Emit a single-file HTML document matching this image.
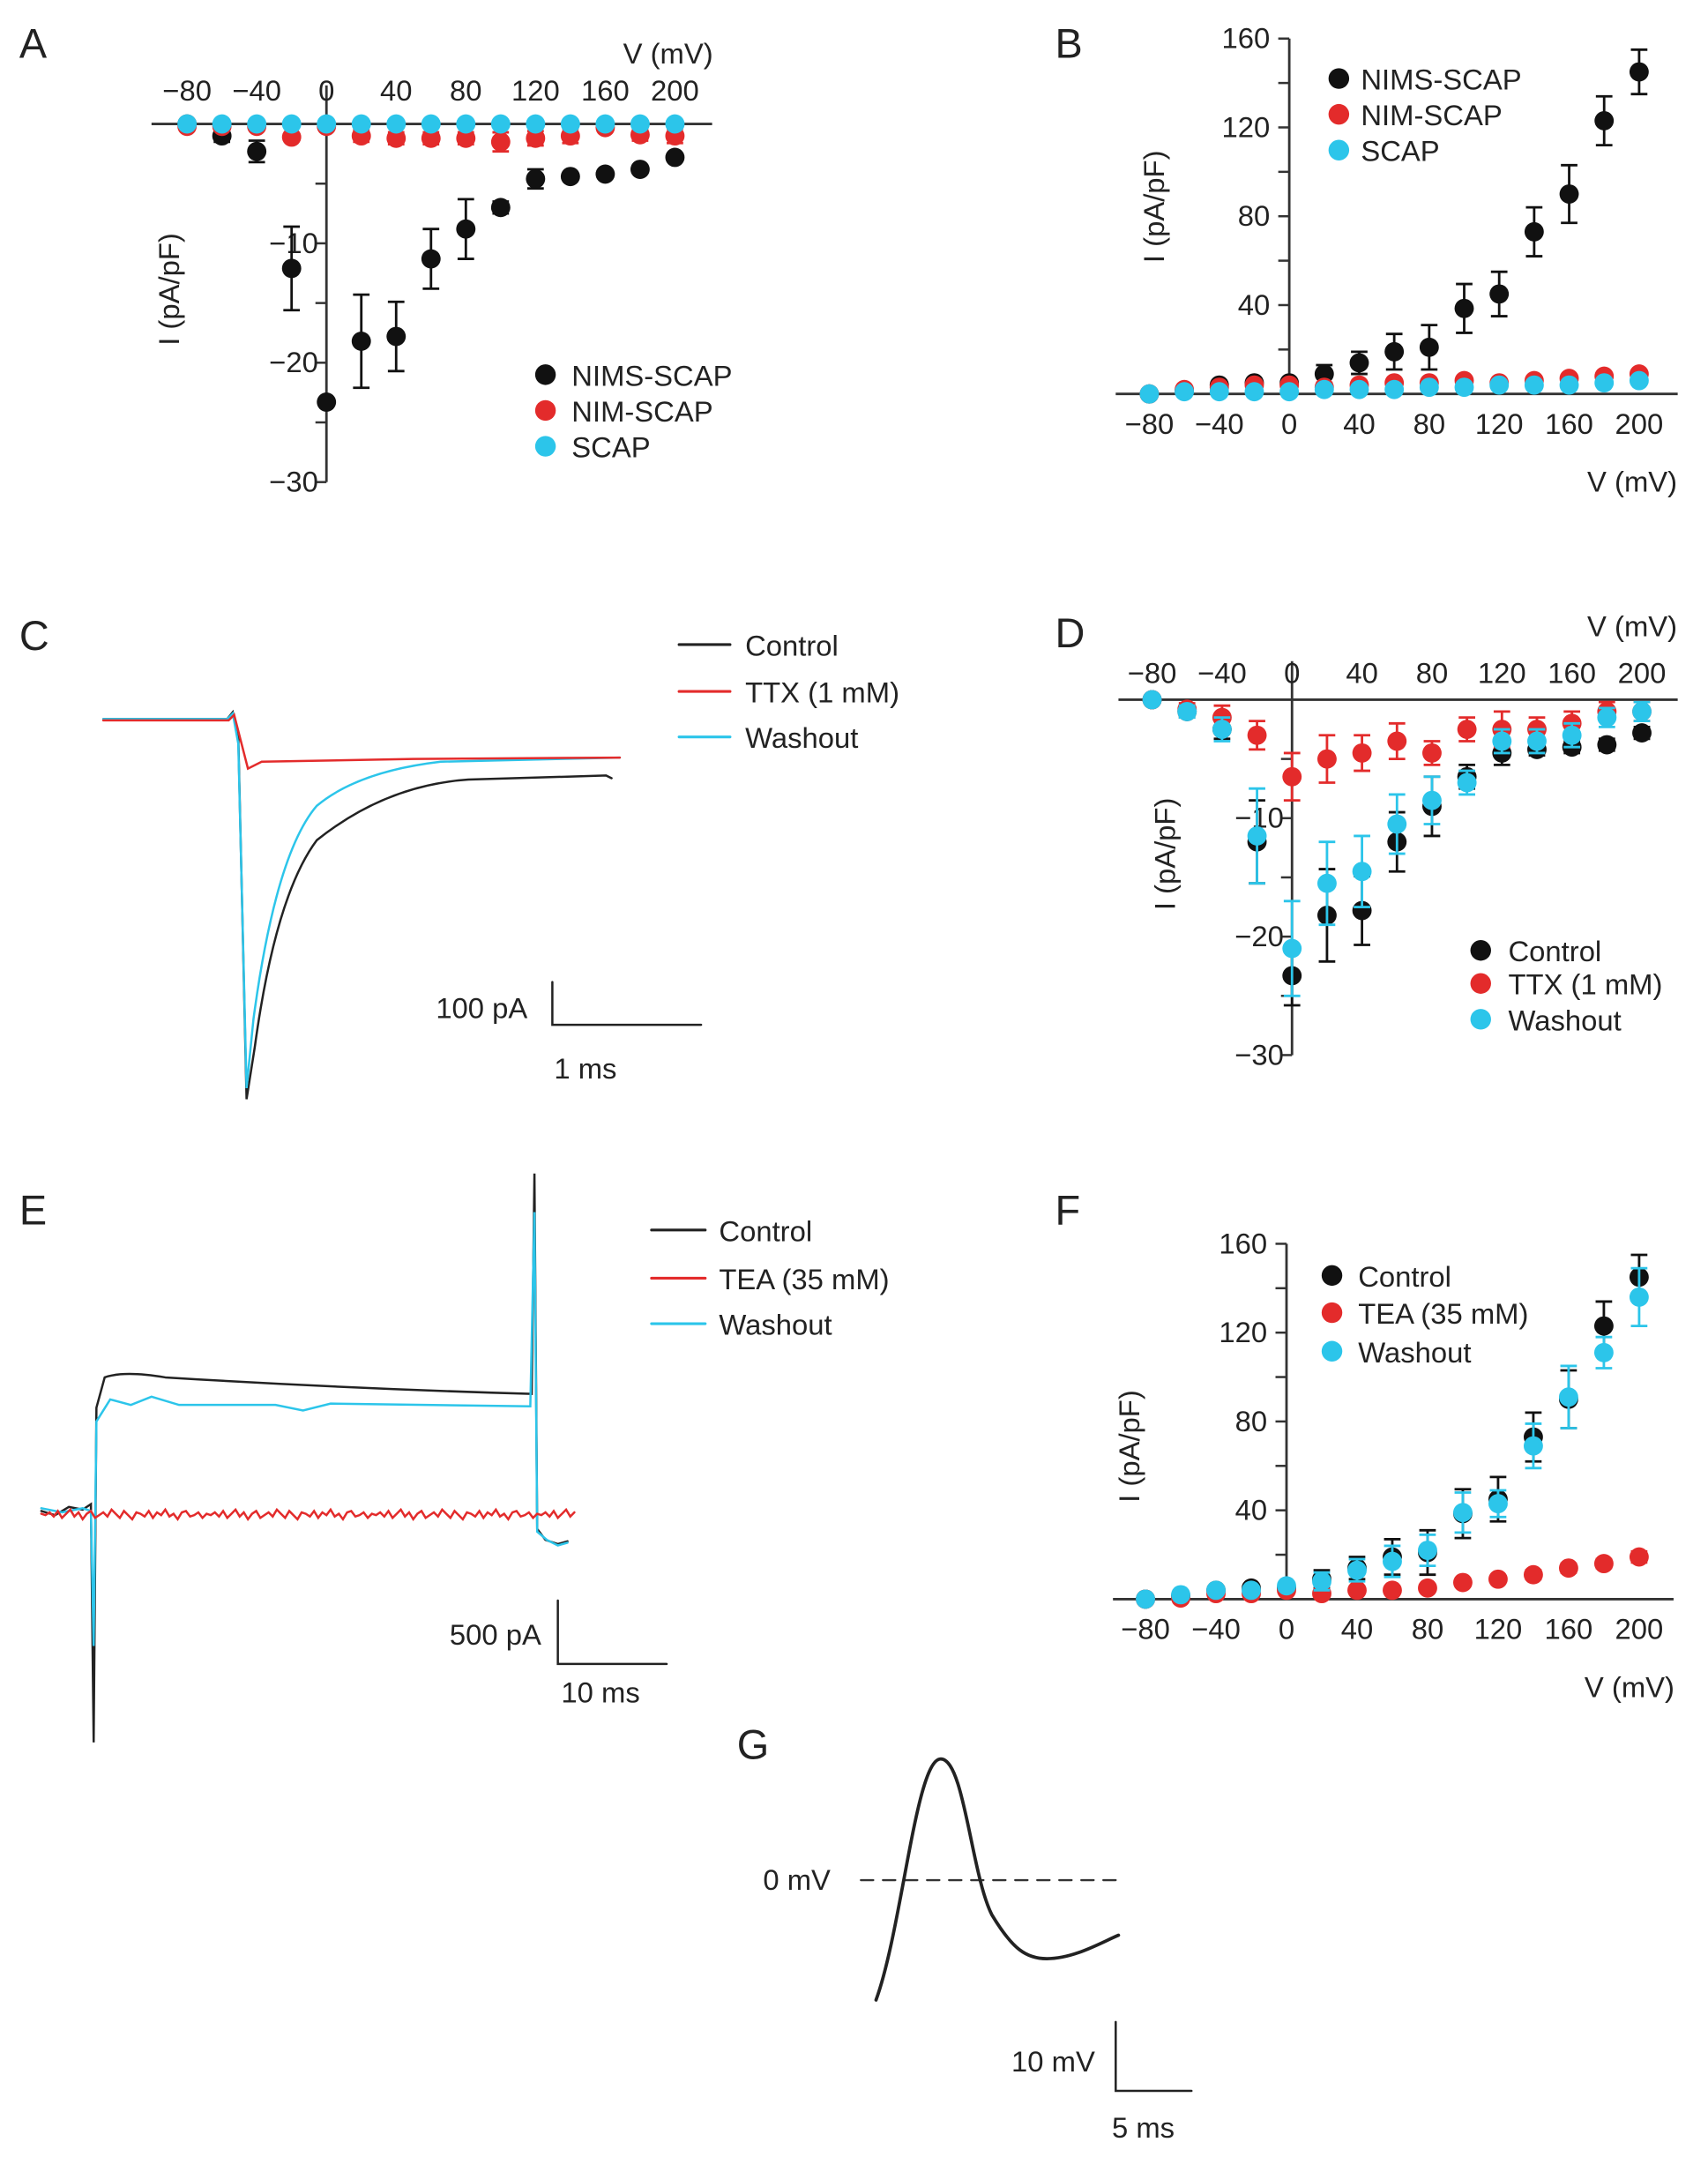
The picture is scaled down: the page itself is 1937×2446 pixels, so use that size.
<!DOCTYPE html>
<html><head><meta charset="utf-8">
<style>
html,body{margin:0;padding:0;background:#fff;}
svg{display:block;}
text{font-family:"Liberation Sans",Arial,sans-serif;fill:#222;}
</style></head>
<body>
<svg id="fig" width="1937" height="2446" viewBox="0 0 1240 1566" preserveAspectRatio="none" xmlns="http://www.w3.org/2000/svg">
<g id="static" stroke-linecap="round">
  <!-- panel labels -->
  <text x="14" y="42" font-size="30">A</text>
  <text x="766" y="42" font-size="30">B</text>
  <text x="14" y="472" font-size="30">C</text>
  <text x="766" y="470" font-size="30">D</text>
  <text x="14" y="889" font-size="30">E</text>
  <text x="766" y="889" font-size="30">F</text>
  <text x="535" y="1277" font-size="30">G</text>

  <!-- Panel C traces -->
  <g fill="none" stroke-width="1.6">
    <path stroke="#222" d="M75,522 L165,522 L169,517 L173,535 L179,798 L185,760 Q200,650 230,610 Q280,570 340,566 L440,563 L444,565"/>
    <path stroke="#2cc5ea" d="M75,522 L165,522 L169,518 L173,540 L179,790 L184,740 Q200,620 230,585 Q260,560 320,553 L450,550"/>
    <path stroke="#e32b2b" d="M75,523 L166,523 L170,519 L180,558 L190,553 L300,551 L450,550"/>
  </g>
  <g>
    <line x1="493" y1="468" x2="530" y2="468" stroke="#222" stroke-width="2"/>
    <line x1="493" y1="502" x2="530" y2="502" stroke="#e32b2b" stroke-width="2"/>
    <line x1="493" y1="535" x2="530" y2="535" stroke="#2cc5ea" stroke-width="2"/>
    <text x="541" y="476" font-size="21">Control</text>
    <text x="541" y="510" font-size="21">TTX (1 mM)</text>
    <text x="541" y="543" font-size="21">Washout</text>
  </g>
  <g>
    <path d="M401,713 L401,744 L509,744" fill="none" stroke="#222" stroke-width="1.6"/>
    <text x="383" y="739" font-size="21" text-anchor="end">100 pA</text>
    <text x="425" y="783" font-size="21" text-anchor="middle">1 ms</text>
  </g>

  <!-- Panel E traces -->
  <g fill="none" stroke-width="1.6">
    <path stroke="#222" d="M30,1097 L40,1100 L50,1094 L60,1096 L66,1092 L68,1265 L70,1022 L76,1000 Q90,995 120,1000 Q250,1008 386,1012 L388,852 L390,1110 L396,1118 L405,1121 L412,1119"/>
    <path stroke="#2cc5ea" d="M30,1095 L45,1098 L60,1095 L66,1097 L68,1195 L70,1032 L80,1016 L95,1020 L110,1014 L130,1020 L200,1020 L220,1024 L240,1019 L385,1021 L388,880 L390,1112 L397,1118 L405,1122 L412,1120"/>
    <path id="redE" stroke="#e32b2b" d=""/>
  </g>
  <g>
    <line x1="473" y1="893" x2="512" y2="893" stroke="#222" stroke-width="2"/>
    <line x1="473" y1="928" x2="512" y2="928" stroke="#e32b2b" stroke-width="2"/>
    <line x1="473" y1="961" x2="512" y2="961" stroke="#2cc5ea" stroke-width="2"/>
    <text x="522" y="901" font-size="21">Control</text>
    <text x="522" y="936" font-size="21">TEA (35 mM)</text>
    <text x="522" y="969" font-size="21">Washout</text>
  </g>
  <g>
    <path d="M405,1162 L405,1208 L484,1208" fill="none" stroke="#222" stroke-width="1.6"/>
    <text x="393" y="1194" font-size="21" text-anchor="end">500 pA</text>
    <text x="436" y="1236" font-size="21" text-anchor="middle">10 ms</text>
  </g>

  <!-- Panel G -->
  <line x1="625" y1="1365" x2="815" y2="1365" stroke="#333" stroke-width="1.5" stroke-dasharray="9,7"/>
  <text x="603" y="1372" font-size="21" text-anchor="end">0 mV</text>
  <path fill="none" stroke="#222" stroke-width="2.4" d="M636,1452 C655,1400 665,1277 683,1277 C700,1277 705,1360 720,1390 C735,1415 745,1422 760,1422 C780,1422 800,1410 812,1405"/>
  <g>
    <path d="M810,1468 L810,1518 L865,1518" fill="none" stroke="#222" stroke-width="1.6"/>
    <text x="795" y="1504" font-size="21" text-anchor="end">10 mV</text>
    <text x="830" y="1552" font-size="21" text-anchor="middle">5 ms</text>
  </g>
</g>
<g id="charts"></g>
</svg>
<script>
// ===== Data =====
const voltages = [-80,-60,-40,-20,0,20,40,60,80,100,120,140,160,180,200];
// Panel A (inward)
const aNims = [0,-1.0,-2.3,-12.1,-23.3,-18.2,-17.8,-11.3,-8.8,-7.0,-4.6,-4.4,-4.2,-3.8,-2.8];
const aNimsErr = [0,0.5,0.9,3.5,0,3.9,2.9,2.5,2.5,0.5,0.8,0,0,0,0];
const aNim = [-0.2,-0.2,-0.2,-1.1,-0.2,-1.0,-1.2,-1.2,-1.2,-1.5,-1.2,-1.0,-0.3,-0.9,-1.0];
const aNimErr = [0,0,0,0,0,0.5,0.5,0.5,0.5,0.8,0.6,0.6,0,0.5,0.6];
const aScap = [0,0,0,0,0,0,0,0,0,0,0,0,0,0,0];
// Panel B (outward)
const bNims = [0,1.5,4,5,5,9,14,19,21,38.5,45,73,90,123,145];
const bNimsErr = [0,0,0,0,1.5,4,5,8,10,11,10,11,13,11,10];
const bNim = [0,2,3,4,4,3,4,5,5,6,5,6,7,8,9];
const bScap = [0,1,1,1,1,2,2,2,3,3,4,4,4,5,6];
// Panel D
const dControl = [0,-1,-2.5,-12,-23.3,-18.2,-17.8,-12,-9,-6.5,-4.5,-4.2,-4,-3.8,-2.8];
const dControlErr = [0,0.5,0.8,3.5,2.5,3.9,2.9,2.5,2.5,1,1,0.5,0.5,0.5,0.5];
const dTtx = [0,-0.8,-1.5,-3,-6.5,-5,-4.5,-3.5,-4.5,-2.5,-2.5,-2.5,-2,-1,-1];
const dTtxErr = [0,0.5,1,1.2,2,2,1.5,1.5,1,1,1.5,1,1,0.8,0.8];
const dWash = [0,-1,-2.5,-11.5,-21,-15.5,-14.5,-10.5,-8.5,-7,-3.5,-3.5,-3,-1.5,-1];
const dWashErr = [0,0.5,1,4,4,3.5,3,2.5,2,1,1,1,1,0.8,0.8];
// Panel F
const fControl = [0,1.5,4,5,5,9,14,19,21,38.5,45,73,90,123,145];
const fControlErr = [0,0,0,0,1.5,4,5,8,10,11,10,11,13,11,10];
const fTea = [0,0.5,2.5,2.5,4,2.5,4,4,5,7.5,9,11,14,16,19];
const fTeaErr = [0,0,0,0,0,0,0,0,0,1,1.5,2,2,2,2.5];
const fWash = [0,2,4,4,6,8,13,17,22,39,43,69,91,111,136];
const fWashErr = [0,0,0,0,1,4,5,7,7,9,6,10,14,7,13];
// Tick labels
const xTicks = [-80,-40,0,40,80,120,160,200];
const yTicksNeg = [-10,-20,-30];
const yTicksPos = [40,80,120,160];
// E red noise offsets
const teaNoise = [0,2,-1,3,-2,1,4,-1,2,-3,1,3,-2,0,2,-1,4,1,-2,3,0,-3,2,1,-1,3,-2,2,0,4,-1,1,-3,2,3,-1,0,2,-2,1];

const NS = "http://www.w3.org/2000/svg";
const root = document.getElementById('charts');
const RED = "#e32b2b", CYAN = "#2cc5ea", BLACK = "#111";

function el(tag, attrs, parent){
  const e = document.createElementNS(NS, tag);
  for (const k in attrs) e.setAttribute(k, attrs[k]);
  (parent||root).appendChild(e);
  return e;
}
function lin(d0,d1,r0,r1){ return v => r0 + (v-d0)*(r1-r0)/(d1-d0); }

function axes(p){
  const g = el('g', {});
  
  
  const x0 = p.sx(p.xmin), x1 = p.sx(p.xmax);
  const xa = el('line', {x1:p.xLeft, y1:p.sy(0), x2:p.xRight, y2:p.sy(0), stroke:'#333','stroke-width':1.8}, g);
  
  
  const ya = el('line', {x1:p.sx(0), y1:p.sy(p.ymin), x2:p.sx(0), y2:p.sy(p.ymax)+(p.yTopExtra||0), stroke:'#333','stroke-width':1.8}, g);
  
  
  xTicks.forEach(v => {
    const t = el('text', {x:p.sx(v), y:p.xLabelY, 'font-size':21, 'text-anchor':'middle'}, g);
    t.textContent = (v<0?'\u2212':'') + Math.abs(v);
    
    
  });
  const yt = p.ymax > 0 ? yTicksPos : yTicksNeg;
  const step = p.ymax > 0 ? 20 : -5;
  const lim = p.ymax > 0 ? p.ymax : p.ymin;
  for (let v = step; Math.abs(v) <= Math.abs(lim)+0.01; v += step){
    el('line', {x1:p.sx(0)-8, y1:p.sy(v), x2:p.sx(0), y2:p.sy(v), stroke:'#333','stroke-width':1.6}, g);
  }
  yt.forEach(v => {
    const t = el('text', {x:p.sx(0)-(p.ymax>0?14:6), y:p.sy(v)+7, 'font-size':21, 'text-anchor':'end'}, g);
    t.textContent = (v<0?'\u2212':'') + Math.abs(v);
    
    
  });
  const xt = el('text', {x:p.xTitle[0], y:p.xTitle[1], 'font-size':21, 'text-anchor':'middle'}, g);
  xt.textContent = 'V (mV)';
  
  
  const yl = el('text', {x:0, y:0, 'font-size':21, 'text-anchor':'middle', transform:'translate('+p.yTitle[0]+','+p.yTitle[1]+') rotate(-90)'}, g);
  yl.textContent = 'I (pA/pF)';
  
  
}

function series(p, vals, errs, color, label){
  const g = el('g', {});
  
  
  vals.forEach((v,i) => {
    const x = p.sx(voltages[i]), y = p.sy(v);
    const e = errs ? errs[i] : 0;
    if (e > 0){
      const bar = el('path', {d:'M'+x+','+p.sy(v-e)+' L'+x+','+p.sy(v+e)+' M'+(x-6)+','+p.sy(v-e)+' L'+(x+6)+','+p.sy(v-e)+' M'+(x-6)+','+p.sy(v+e)+' L'+(x+6)+','+p.sy(v+e), stroke:color, 'stroke-width':1.8, fill:'none'}, g);
      
      
    }
    const c = el('circle', {cx:x, cy:y, r:7, fill:color}, g);
    
    
  });
}

function legend(entries, cx, text_x, ys){
  entries.forEach((en,i) => {
    const c = el('circle', {cx:cx, cy:ys[i], r:7.5, fill:en[1]});
    
    
    const t = el('text', {x:text_x, y:ys[i]+8, 'font-size':21});
    t.textContent = en[0];
    
    
  });
}

// Panel A
const pA = {name:'panel-a', sx:lin(0,200,237,490), sy:lin(0,-30,90,350), xmin:-80, xmax:200, ymin:-30, ymax:0, yTopExtra:-28, xLeft:110, xRight:517, xLabelY:73, xTitle:[485,46], yTitle:[130,210]};
axes(pA);
series(pA, aNims, aNimsErr, BLACK, 'nims-scap');
series(pA, aNim, aNimErr, RED, 'nim-scap');
series(pA, aScap, null, CYAN, 'scap');
legend([['NIMS-SCAP',BLACK],['NIM-SCAP',RED],['SCAP',CYAN]], 396, 415, [272,298,324]);

// Panel B
const pB = {name:'panel-b', sx:lin(0,200,936,1190), sy:lin(0,160,286,28), xmin:-80, xmax:200, ymin:0, ymax:160, xLeft:810, xRight:1218, xLabelY:315, xTitle:[1185,357], yTitle:[845,150]};
axes(pB);
series(pB, bNims, bNimsErr, BLACK, 'nims-scap');
series(pB, bNim, null, RED, 'nim-scap');
series(pB, bScap, null, CYAN, 'scap');
legend([['NIMS-SCAP',BLACK],['NIM-SCAP',RED],['SCAP',CYAN]], 972, 988, [57,83,109]);

// Panel D
const pD = {name:'panel-d', sx:lin(0,200,938,1192), sy:lin(0,-30,508,766), xmin:-80, xmax:200, ymin:-30, ymax:0, yTopExtra:-28, xLeft:812, xRight:1218, xLabelY:496, xTitle:[1185,462], yTitle:[853,620]};
axes(pD);
series(pD, dControl, dControlErr, BLACK, 'control');
series(pD, dTtx, dTtxErr, RED, 'ttx');
series(pD, dWash, dWashErr, CYAN, 'washout');
legend([['Control',BLACK],['TTX (1 mM)',RED],['Washout',CYAN]], 1075, 1095, [690,714,740]);

// Panel F
const pF = {name:'panel-f', sx:lin(0,200,934,1190), sy:lin(0,160,1161,903), xmin:-80, xmax:200, ymin:0, ymax:160, xLeft:808, xRight:1215, xLabelY:1190, xTitle:[1183,1232], yTitle:[827,1050]};
axes(pF);
series(pF, fControl, fControlErr, BLACK, 'control');
series(pF, fTea, fTeaErr, RED, 'tea');
series(pF, fWash, fWashErr, CYAN, 'washout');
legend([['Control',BLACK],['TEA (35 mM)',RED],['Washout',CYAN]], 967, 986, [926,953,981]);

// Panel E red noisy trace
(function(){
  let d = 'M30,1099';
  let n = 0;
  for (let x = 33; x <= 418; x += 3){
    d += ' L' + x + ',' + (1100 - teaNoise[n % teaNoise.length]);
    n++;
  }
  document.getElementById('redE').setAttribute('d', d);
})();
</script>
</body></html>
